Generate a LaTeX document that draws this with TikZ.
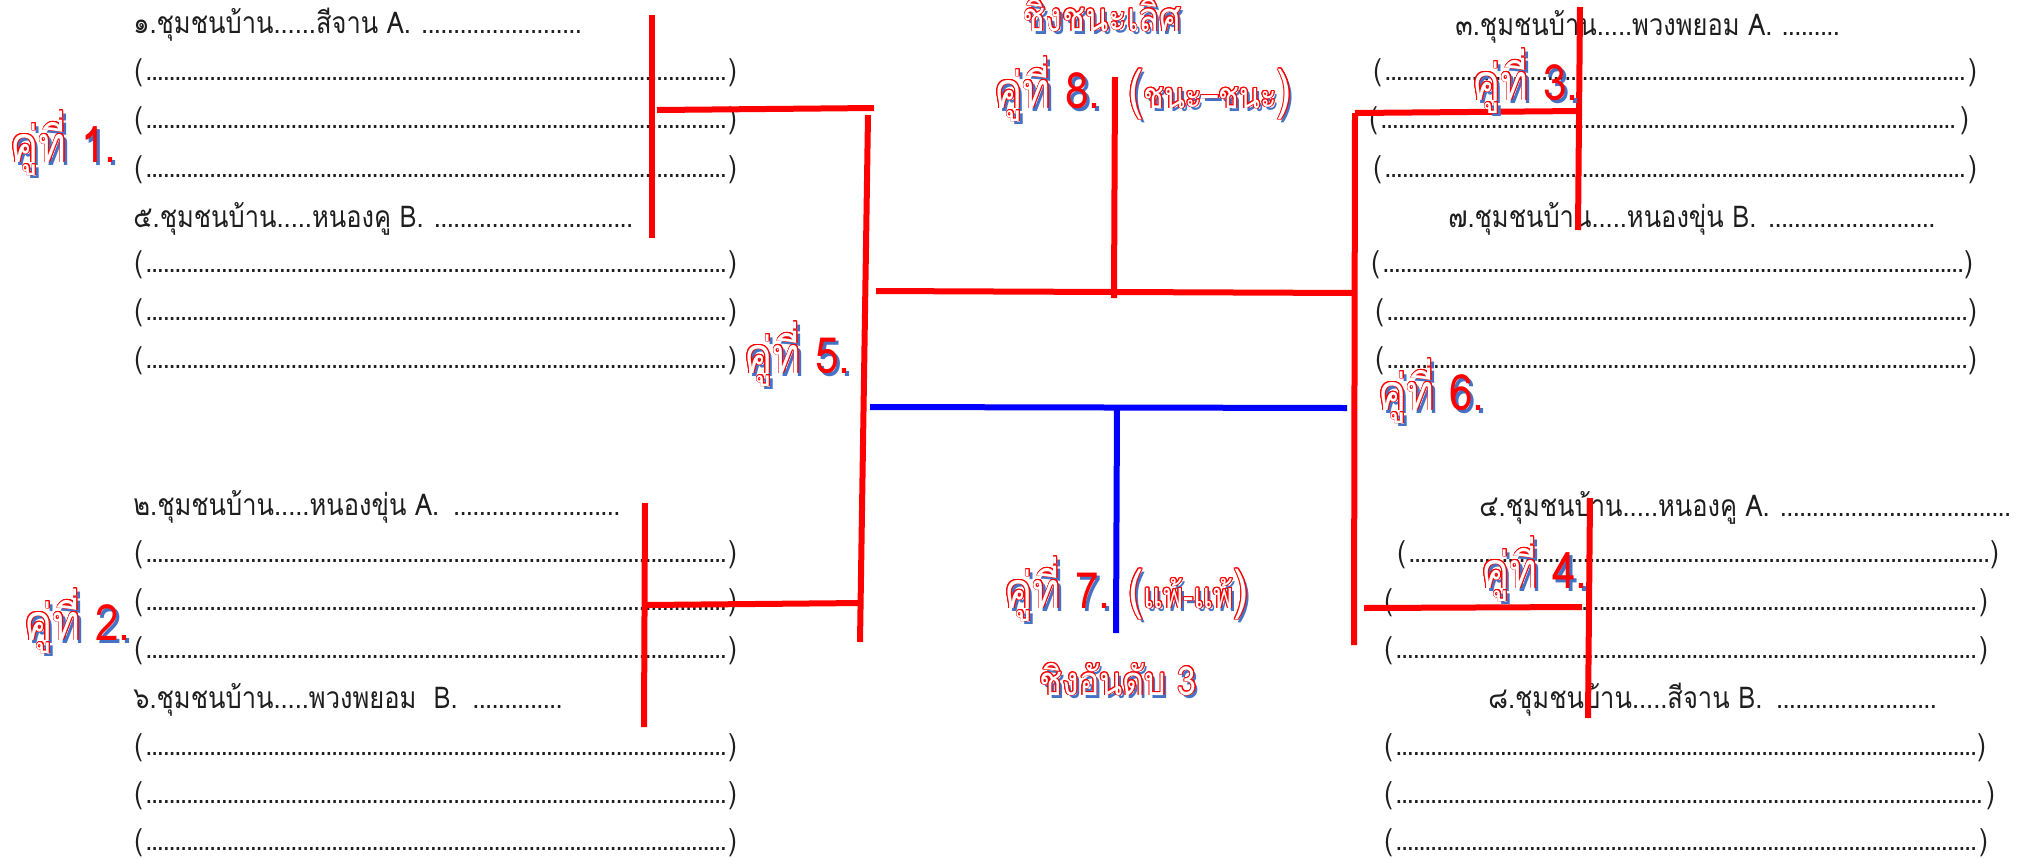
\documentclass[tikz,border=0pt]{standalone}
\usepackage{fontspec}
\usepackage[copies]{contour}
\newfontfamily\thai[Script=Thai,FakeStretch=0.85]{Loma}
\definecolor{sblue}{RGB}{68,114,196}
\definecolor{ink}{RGB}{30,30,30}
\contourlength{0.4pt}
\newcommand{\dl}[1]{\makebox[#1]{(\leaders\hbox to 2.9pt{\hss.\hss}\hfill)}}
\newcommand{\tl}[2]{\makebox[#1][l]{#2\leaders\hbox to 3.2pt{\hss.\hss}\hfill}}
\newcommand{\wa}[2]{\rlap{\kern1.6pt\raisebox{-1.6pt}{\textcolor{sblue}{#1#2}}}{\color{white}\contour{red}{#1}}\textcolor{red}{#2}}
\tikzset{
 txt/.style={anchor=base west, inner sep=0pt, text=ink, font=\thai\fontsize{15}{18}\selectfont},
 lab/.style={anchor=base west, inner sep=0pt, font=\thai\fontsize{25}{30}\selectfont},
 sub/.style={anchor=base, inner sep=0pt, font=\thai\fontsize{20}{24}\selectfont},
 par/.style={anchor=base west, inner sep=0pt, font=\thai\fontsize{18}{22}\selectfont},
 rl/.style={draw=red, line width=3pt},
 bl/.style={draw=blue, line width=3pt},
}
\begin{document}
\begin{tikzpicture}[x=0.5pt,y=-0.5pt]
\useasboundingbox (0,0) rectangle (2031,858);
% left group 1
\node[txt] (t1) at (133,33) {\tl{227pt}{๑.ชุมชนบ้าน......สีจาน A. }};
\node[txt] (d1a) at (134,80) {\dl{301pt}};
\node[txt] (d1b) at (134,128) {\dl{301pt}};
\node[txt] (d1c) at (134,177) {\dl{301pt}};
\node[txt] (t5) at (133,227) {\tl{251pt}{๕.ชุมชนบ้าน.....หนองคู B. }};
\node[txt] (d5a) at (134,272) {\dl{301pt}};
\node[txt] (d5b) at (134,320) {\dl{301pt}};
\node[txt] (d5c) at (134,368) {\dl{301pt}};
% left group 2
\node[txt] (t2) at (133,515) {\tl{246pt}{๒.ชุมชนบ้าน.....หนองขุ่น A. }};
\node[txt] (d2a) at (134,562) {\dl{301pt}};
\node[txt] (d2b) at (134,610) {\dl{301pt}};
\node[txt] (d2c) at (134,658) {\dl{301pt}};
\node[txt] (t6) at (133,708) {\tl{216pt}{๖.ชุมชนบ้าน.....พวงพยอม\ \ B. }};
\node[txt] (d6a) at (134,755) {\dl{301pt}};
\node[txt] (d6b) at (134,803) {\dl{301pt}};
\node[txt] (d6c) at (134,850) {\dl{301pt}};
% right group 3
\node[txt] (t3) at (1455,35) {\tl{194.5pt}{๓.ชุมชนบ้าน.....พวงพยอม A. }};
\node[txt] (d3a) at (1373,80) {\dl{301.5pt}};
\node[txt] (d3b) at (1369,128) {\dl{299.5pt}};
\node[txt] (d3c) at (1373,177) {\dl{301.5pt}};
\node[txt] (t7) at (1448,227) {\tl{244.5pt}{๗.ชุมชนบ้าน.....หนองขุ่น B. }};
\node[txt] (d7a) at (1371,272) {\dl{300.5pt}};
\node[txt] (d7b) at (1375,320) {\dl{300.5pt}};
\node[txt] (d7c) at (1375,368) {\dl{300.5pt}};
% right group 4
\node[txt] (t4) at (1479,516) {\tl{267.5pt}{๔.ชุมชนบ้าน.....หนองคู A. }};
\node[txt] (d4a) at (1397,562) {\dl{300.5pt}};
\node[txt] (d4b) at (1384,610) {\dl{301.5pt}};
\node[txt] (d4c) at (1384,658) {\dl{301.5pt}};
\node[txt] (t8) at (1488,708) {\tl{226.5pt}{๘.ชุมชนบ้าน.....สีจาน B. }};
\node[txt] (d8a) at (1384,755) {\dl{300.5pt}};
\node[txt] (d8b) at (1384,803) {\dl{305pt}};
\node[txt] (d8c) at (1384,850) {\dl{301.5pt}};
% bracket coordinates
\coordinate (a1) at (652,15);  \coordinate (a2) at (652,238);
\coordinate (a3) at (657,110); \coordinate (a4) at (874,108);
\coordinate (a5) at (868,115); \coordinate (a6) at (860,642);
\coordinate (b1) at (645,503); \coordinate (b2) at (644,727);
\coordinate (b3) at (646,605); \coordinate (b4) at (862,603);
\coordinate (c1) at (876,291); \coordinate (c2) at (1355,293);
\coordinate (c3) at (1115,77); \coordinate (c4) at (1114,298);
\coordinate (c5) at (870,407); \coordinate (c6) at (1347,408);
\coordinate (c7) at (1117,407); \coordinate (c8) at (1116,633);
\coordinate (e1) at (1355,113); \coordinate (e2) at (1354,645);
\coordinate (e3) at (1580,111);
\coordinate (e4) at (1580,7);  \coordinate (e5) at (1578,230);
\coordinate (f1) at (1364,608); \coordinate (f2) at (1582,607);
\coordinate (f3) at (1590,498); \coordinate (f4) at (1588,718);
\draw[rl] (a1) -- (a2);
\draw[rl] (a3) -- (a4);
\draw[rl] (a5) -- (a6);
\draw[rl] (b1) -- (b2);
\draw[rl] (b3) -- (b4);
\draw[rl] (c1) -- (c2);
\draw[rl] (c3) -- (c4);
\draw[bl] (c5) -- (c6);
\draw[bl] (c7) -- (c8);
\draw[rl] (e1) -- (e2);
\draw[rl] (e1) -- (e3);
\draw[rl] (e4) -- (e5);
\draw[rl] (f1) -- (f2);
\draw[rl] (f3) -- (f4);
% labels
\node[lab] (k1) at (10,162) {\wa{คู่ที่ }{1.}};
\node[lab] (k2) at (24,640) {\wa{คู่ที่ }{2.}};
\node[lab] (k5) at (744,373) {\wa{คู่ที่ }{5.}};
\node[lab] (k6) at (1378,410) {\wa{คู่ที่ }{6.}};
\node[lab] (k3) at (1472,100) {\wa{คู่ที่ }{3.}};
\node[lab] (k4) at (1481,588) {\wa{คู่ที่ }{4.}};
\node[lab] (k8) at (994,108) {\wa{คู่ที่ }{8.}};
\node[lab] (k7) at (1004,608) {\wa{คู่ที่ }{7.}};
\node[par] (w8) at (1128,108)
  {\wa{{\fontsize{27}{30}\selectfont(}ชนะ–ชนะ{\fontsize{27}{30}\selectfont)}}{}};
\node[par] (w7) at (1128,608)
  {\wa{{\fontsize{27}{30}\selectfont(}แพ้-แพ้{\fontsize{27}{30}\selectfont)}}{}};
\node[sub] (h1) at (1102,31) {\wa{ชิงชนะเลิศ}{}};
\node[sub] (h2) at (1118,695) {\wa{ชิงอันดับ 3}{}};
\end{tikzpicture}
\end{document}
